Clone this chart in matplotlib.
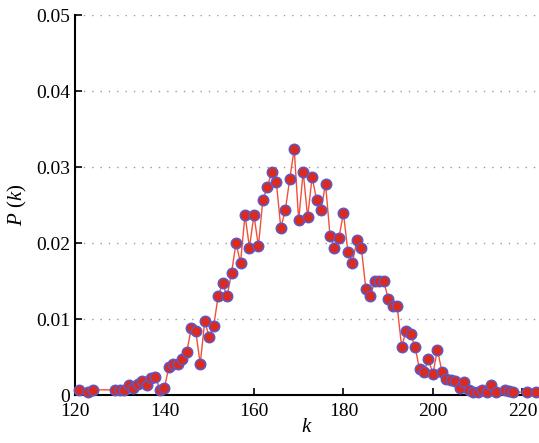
import matplotlib
matplotlib.use("Agg")
import matplotlib.pyplot as plt

plt.rcParams['font.family'] = ['Liberation Serif', 'DejaVu Serif']
plt.rcParams['mathtext.fontset'] = 'custom'
plt.rcParams['mathtext.it'] = 'Liberation Serif:italic'
plt.rcParams['mathtext.rm'] = 'Liberation Serif'

# degree k and probability P(k)
k = [121, 123, 124, 129, 130, 131, 132, 133, 134, 135, 136, 137, 138, 139, 140,
     141, 142, 143, 144, 145, 146, 147, 148, 149, 150, 151, 152, 153, 154, 155,
     156, 157, 158, 159, 160, 161, 162, 163, 164, 165, 166, 167, 168, 169, 170,
     171, 172, 173, 174, 175, 176, 177, 178, 179, 180, 181, 182, 183, 184, 185,
     186, 187, 188, 189, 190, 191, 192, 193, 194, 195, 196, 197, 198, 199, 200,
     201, 202, 203, 204, 205, 206, 207, 208, 209, 210, 211, 212, 213, 214, 216,
     217, 218, 221, 223]
pk = [0.0007, 0.0004, 0.0007, 0.0007, 0.0007, 0.0007, 0.0014, 0.0010, 0.0015, 0.0018,
      0.0013, 0.0022, 0.0024, 0.0007, 0.0010, 0.0037, 0.0041, 0.0041, 0.0047, 0.0057,
      0.0088, 0.0084, 0.0041, 0.0097, 0.0077, 0.0091, 0.0130, 0.0147, 0.0130, 0.0161,
      0.0200, 0.0174, 0.0237, 0.0194, 0.0237, 0.0196, 0.0257, 0.0274, 0.0294, 0.0281,
      0.0220, 0.0243, 0.0284, 0.0324, 0.0230, 0.0294, 0.0234, 0.0287, 0.0257, 0.0244,
      0.0278, 0.0210, 0.0194, 0.0207, 0.0240, 0.0188, 0.0174, 0.0204, 0.0194, 0.0140,
      0.0130, 0.0150, 0.0150, 0.0150, 0.0127, 0.0117, 0.0117, 0.0064, 0.0084, 0.0080,
      0.0064, 0.0034, 0.0031, 0.0047, 0.0028, 0.0060, 0.0031, 0.0021, 0.0020, 0.0018,
      0.0010, 0.0017, 0.0007, 0.0004, 0.0004, 0.0007, 0.0004, 0.0014, 0.0004, 0.0007,
      0.0005, 0.0004, 0.0004, 0.0004]

xticks = [120, 140, 160, 180, 200, 220]
yticks = [0, 0.01, 0.02, 0.03, 0.04, 0.05]

fig = plt.figure(figsize=(5.39, 4.43), dpi=100)
ax = fig.add_axes([0.139, 0.108, 0.861, 0.858])

ax.plot(k, pk, '-', color='#f0503a', linewidth=1.0, zorder=2)
ax.plot(k, pk, 'o', markersize=7.5, markerfacecolor='#dc2a1e',
        markeredgecolor='#5a5ac8', markeredgewidth=1.1, linestyle='none',
        zorder=3, clip_on=False)

ax.set_xlim(120, 223.7)
ax.set_ylim(0, 0.05)
ax.set_xticks(xticks)
ax.set_yticks(yticks)
ax.set_xticklabels([str(t) for t in xticks])
ax.set_yticklabels(['0', '0.01', '0.02', '0.03', '0.04', '0.05'])

for y in yticks[1:]:
    ax.axhline(y, color='#999999', linestyle=(0, (1, 5)), linewidth=1.0, zorder=1)

ax.spines['top'].set_visible(False)
ax.spines['right'].set_visible(False)
ax.spines['left'].set_linewidth(1.5)
ax.spines['bottom'].set_linewidth(1.5)
ax.tick_params(direction='in', length=5, width=1.2, labelsize=14)
ax.tick_params(axis='x', pad=6)

ax.set_xlabel('$k$', fontsize=15, labelpad=-2)
ax.set_ylabel('$P$ ($k$)', fontsize=15, labelpad=5)

fig.savefig('out.png', dpi=100)
